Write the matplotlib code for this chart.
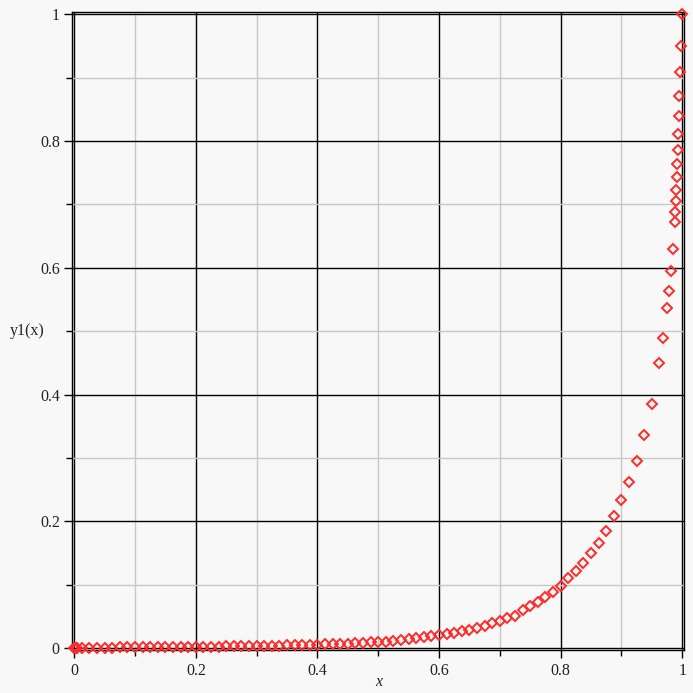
import matplotlib
matplotlib.use('Agg')
import matplotlib.pyplot as plt
from matplotlib.ticker import MultipleLocator

# points of y1(x)
x_vals = [0.0, 0.002, 0.005, 0.0125, 0.025, 0.0375, 0.05, 0.0625, 0.075, 0.0875,
          0.1, 0.1125, 0.125, 0.1375, 0.15, 0.1625, 0.175, 0.1875, 0.2, 0.2125,
          0.225, 0.2375, 0.25, 0.2625, 0.275, 0.2875, 0.3, 0.3125, 0.325, 0.3375,
          0.35, 0.3625, 0.375, 0.3875, 0.4, 0.4125, 0.425, 0.4375, 0.45, 0.4625,
          0.475, 0.4875, 0.5, 0.5125, 0.525, 0.5375, 0.55, 0.5625, 0.575, 0.5875,
          0.6, 0.6125, 0.625, 0.6375, 0.65, 0.6625, 0.675, 0.6875, 0.7, 0.7125,
          0.725, 0.7375, 0.75, 0.7625, 0.775, 0.7875, 0.8, 0.8125, 0.825, 0.8375,
          0.85, 0.8625, 0.875, 0.8875, 0.9, 0.9125, 0.925, 0.9375, 0.95, 0.962,
          0.968, 0.9748, 0.978, 0.981, 0.984, 0.9874, 0.9885, 0.989, 0.990, 0.9912,
          0.9918, 0.993, 0.9934, 0.994, 0.995, 0.9962, 0.998, 0.9995]
y_vals = [0.0, 0.0001, 0.0001, 0.0002, 0.0003, 0.0004, 0.0005, 0.0006, 0.0007, 0.0008,
          0.0009, 0.0010, 0.0011, 0.0012, 0.0013, 0.0014, 0.0015, 0.0017, 0.0018, 0.0019,
          0.0021, 0.0022, 0.0024, 0.0025, 0.0027, 0.0029, 0.0031, 0.0033, 0.0035, 0.0038,
          0.0040, 0.0043, 0.0046, 0.0049, 0.0053, 0.0056, 0.0060, 0.0065, 0.0070, 0.0075,
          0.0080, 0.0086, 0.0092, 0.0099, 0.0110, 0.0125, 0.0141, 0.0157, 0.0173, 0.0189,
          0.0205, 0.0221, 0.0240, 0.0266, 0.0290, 0.0320, 0.0350, 0.0390, 0.0426, 0.0468,
          0.0505, 0.0600, 0.0657, 0.0726, 0.0800, 0.0883, 0.0980, 0.1100, 0.1215, 0.1345,
          0.1495, 0.1660, 0.1850, 0.2077, 0.2330, 0.2613, 0.2955, 0.3360, 0.3855, 0.4490,
          0.4890, 0.5358, 0.5636, 0.5946, 0.6304, 0.6730, 0.6888, 0.7055, 0.7234, 0.7430,
          0.7640, 0.7860, 0.8118, 0.8396, 0.8717, 0.9085, 0.9506, 1.0]

BG = '#f8f8f8'
plt.rcParams.update({'font.family': 'Liberation Serif', 'font.size': 11.5})

fig = plt.figure(figsize=(6.93, 6.93), dpi=100, facecolor=BG)
ax = fig.add_axes([0.1043, 0.062, 0.8831, 0.9203], facecolor=BG)

ax.set_xlim(-0.0033, 1.0033)
ax.set_ylim(-0.0033, 1.0033)

ax.xaxis.set_major_locator(MultipleLocator(0.2))
ax.xaxis.set_minor_locator(MultipleLocator(0.1))
ax.yaxis.set_major_locator(MultipleLocator(0.2))
ax.yaxis.set_minor_locator(MultipleLocator(0.1))
ax.xaxis.set_major_formatter(plt.FuncFormatter(lambda v, p: f'{v:g}'))
ax.yaxis.set_major_formatter(plt.FuncFormatter(lambda v, p: f'{v:g}'))

ax.grid(which='minor', color='#c8c8c8', lw=1.0, zorder=0)
ax.grid(which='major', color='black', lw=1.0, zorder=1)

for s in ax.spines.values():
    s.set_color('black')
    s.set_linewidth(1.0)

ax.tick_params(which='major', direction='out', length=6, width=1, pad=3,
               top=False, right=False, colors='black', labelcolor='#222222')
ax.tick_params(which='minor', direction='out', length=4, width=1,
               top=False, right=False)

ax.plot(x_vals, y_vals, linestyle='none', marker='D', ms=5.5,
        markerfacecolor='none', markeredgecolor='#ff2a2a', markeredgewidth=1.4,
        zorder=5, clip_on=False)

ax.set_xlabel('x', style='italic', color='#222222')
ax.xaxis.set_label_coords(0.5, -0.037)
ax.set_ylabel('y1(x)', rotation=0, va='center', ha='center', color='#222222')
ax.yaxis.set_label_coords(-0.074, 0.5)

fig.savefig('out.png', dpi=100, facecolor=BG)
